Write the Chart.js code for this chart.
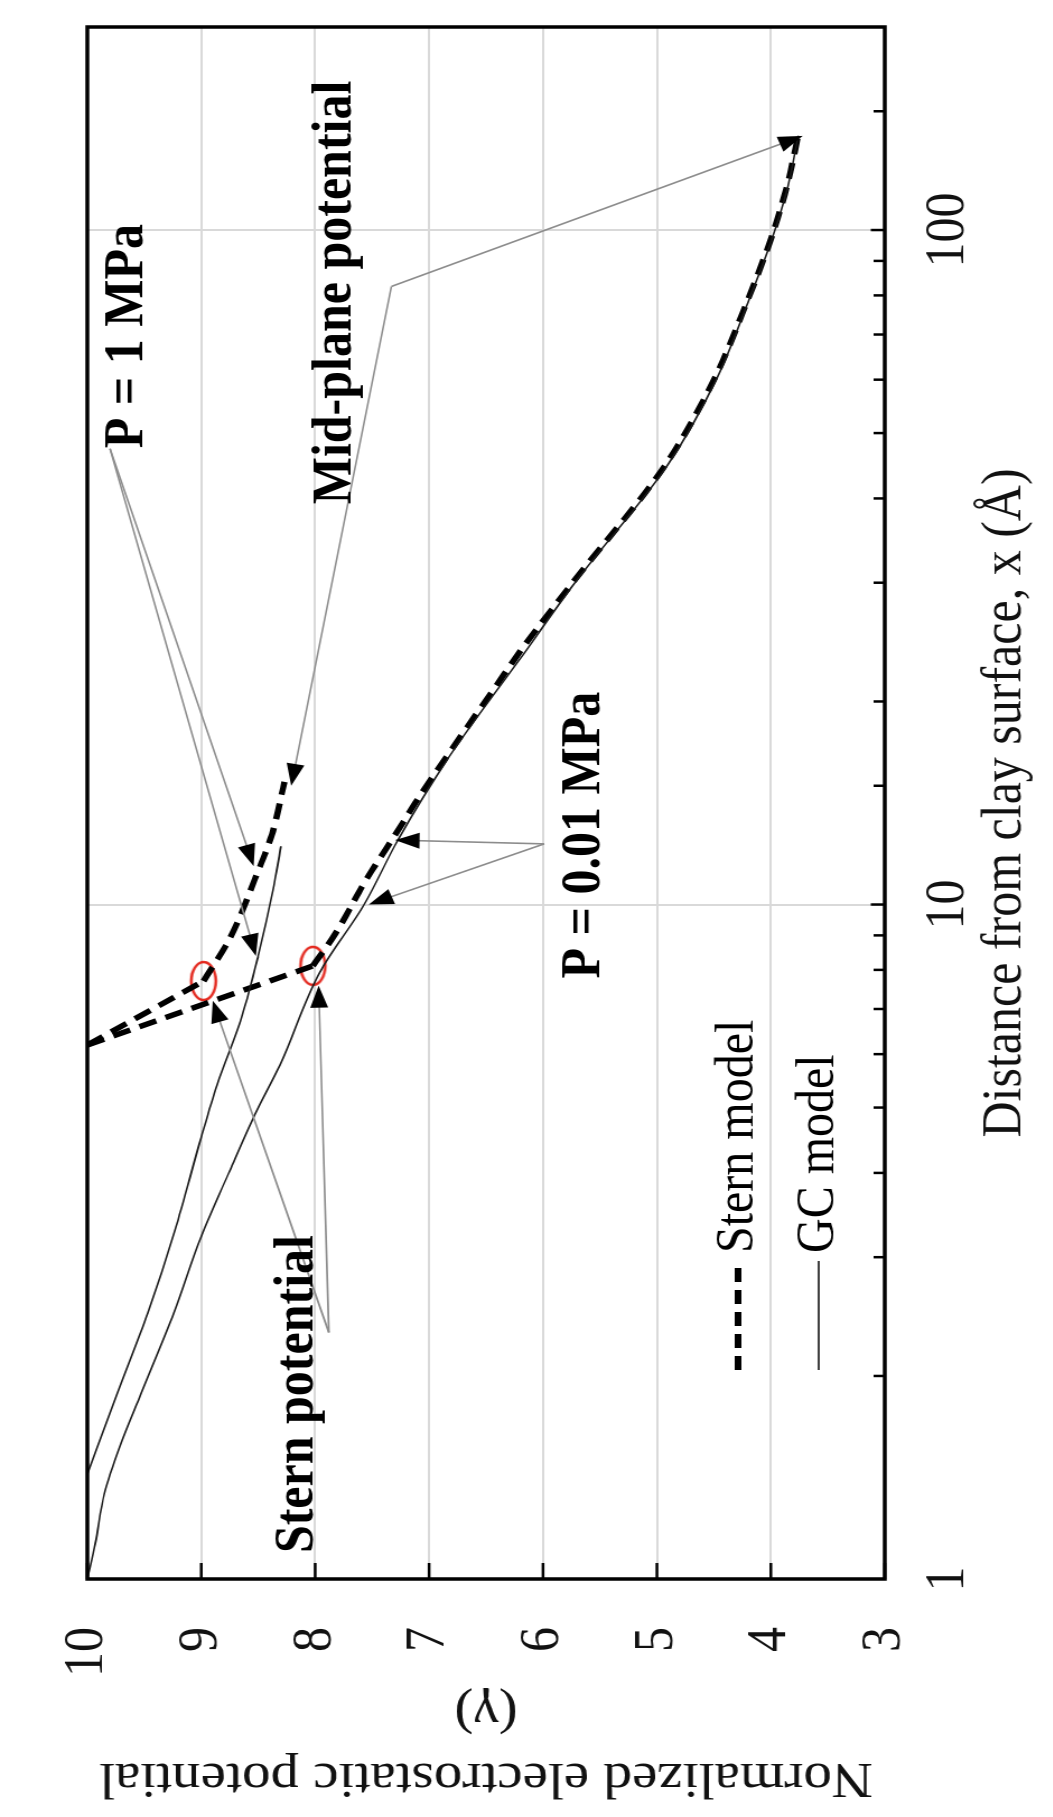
<!DOCTYPE html>
<html>
<head>
<meta charset="utf-8">
<title>Normalized electrostatic potential vs distance</title>
<script src="https://cdn.jsdelivr.net/npm/chart.js@4.4.1/dist/chart.umd.min.js"></script>
<style>
  html, body { margin: 0; padding: 0; background: #fff; }
  body { width: 1053px; height: 1817px; overflow: hidden; position: relative; }
  /* the figure is printed turned a quarter turn anticlockwise */
  #wrap {
    position: absolute; left: 0; top: 0;
    width: 1817px; height: 940px;
    transform-origin: 0 0;
    transform: translate(0, 1817px) rotate(-90deg) scaleY(1.12);
  }
</style>
</head>
<body>
<div id="wrap"><canvas id="potentialChart" width="1817" height="940"></canvas></div>
<script>
// ─── Electrostatic potential: Stern vs Gouy-Chapman ───

const SERIF = '"Liberation Serif", "Times New Roman", serif';

// Stern model, P = 0.01 MPa (first segment = Stern layer)
const sternLowX = [6.19, 8.11, 9.07, 10.9, 12.9, 14.5, 17, 21, 24, 30, 45, 60, 79, 97, 116, 138];
const sternLowY = [10, 8.02, 7.82, 7.55, 7.27, 7.08, 6.8, 6.42, 6.18, 5.74, 4.92, 4.5, 4.2, 4.0, 3.86, 3.76];

// Stern model, P = 1 MPa
const sternHighX = [6.19, 7.7, 8.9, 10.9, 12.7, 15.2];
const sternHighY = [10, 8.98, 8.75, 8.53, 8.38, 8.27];

// GC model, P = 0.01 MPa
const gcLowX = [1, 1.13, 1.34, 1.58, 1.88, 2.48, 3.22, 4.03, 4.88, 5.78, 7.93, 10, 12.5, 16.5, 23.4, 30, 45, 60, 79, 97, 116, 138];
const gcLowY = [10, 9.93, 9.85, 9.71, 9.53, 9.24, 9.0, 8.75, 8.53, 8.31, 7.96, 7.57, 7.27, 6.83, 6.18, 5.72, 4.9, 4.48, 4.19, 3.99, 3.85, 3.76];

// GC model, P = 1 MPa
const gcHighX = [1.43, 1.88, 2.48, 3.29, 4.52, 5.41, 6.85, 8.39, 10.5, 12.2];
const gcHighY = [10, 9.74, 9.47, 9.23, 9.0, 8.86, 8.64, 8.5, 8.37, 8.3];

// Stern potential (circled points)
const sternPotX = [7.7, 8.11];
const sternPotY = [8.98, 8.02];

// Axis tick labels
const xLabelValues = [1, 10, 100];

// Annotation labels (centre, in data units)
const labelText = ['P = 1 MPa', 'Mid-plane potential', 'Stern potential', 'P = 0.01 MPa'];
const labelX = [69.6, 80.8, 1.88, 12.67];
const labelY = [9.65, 7.82, 8.15, 5.63];

// Leader arrows: start and tip (data units)
const arrowStartX = [47.4, 47.4, 82.5, 82.5, 2.32, 2.32, 12.3, 12.3];
const arrowStartY = [9.8, 9.8, 7.33, 7.33, 7.88, 7.88, 5.99, 5.99];
const arrowTipX = [11.4, 8.39, 15.0, 137.9, 7.2, 7.58, 12.46, 10.0];
const arrowTipY = [8.54, 8.52, 8.21, 3.72, 8.9, 7.97, 7.3, 7.53];

// Legend
const legendText = ['Stern model', 'GC model'];
const legendDash = [[14, 8], []];
const legendWidth = [6, 1.6];

const toPoints = (xs, ys) => xs.map((x, i) => ({ x, y: ys[i] }));
const isDecade = v => Math.abs(Math.log10(v) - Math.round(Math.log10(v))) < 1e-9;

function ellipseMarker() {
    const c = document.createElement('canvas');
    c.width = 44;
    c.height = 28;
    const g = c.getContext('2d');
    g.strokeStyle = '#e3261c';
    g.lineWidth = 2.5;
    g.beginPath();
    g.ellipse(22, 14, 19, 11, 0, 0, Math.PI * 2);
    g.stroke();
    return c;
}

const DASHED = { borderColor: '#000', borderWidth: 5.5, borderDash: [16, 9], pointRadius: 0, showLine: true, fill: false };
const THIN = { borderColor: '#1a1a1a', borderWidth: 1.6, pointRadius: 0, showLine: true, fill: false, cubicInterpolationMode: 'monotone' };

// Frame, inward tick marks, leader arrows, labels and legend
const decorations = {
    id: 'decorations',
    afterDatasetsDraw(chart) {
        const { ctx, scales: { x, y } } = chart;
        ctx.save();
        arrowTipX.forEach((tx, i) => {
            const x0 = x.getPixelForValue(arrowStartX[i]);
            const y0 = y.getPixelForValue(arrowStartY[i]);
            const x1 = x.getPixelForValue(tx);
            const y1 = y.getPixelForValue(arrowTipY[i]);
            const ang = Math.atan2(y1 - y0, x1 - x0);
            const c = Math.cos(ang), s = Math.sin(ang);
            ctx.strokeStyle = '#8c8c8c';
            ctx.lineWidth = 1.6;
            ctx.beginPath();
            ctx.moveTo(x0, y0);
            ctx.lineTo(x1 - 18 * c, y1 - 18 * s);
            ctx.stroke();
            ctx.fillStyle = '#000';
            ctx.beginPath();
            ctx.moveTo(x1, y1);
            ctx.lineTo(x1 - 22 * c + 8 * s, y1 - 22 * s - 8 * c);
            ctx.lineTo(x1 - 22 * c - 8 * s, y1 - 22 * s + 8 * c);
            ctx.closePath();
            ctx.fill();
        });
        ctx.font = `bold 50px ${SERIF}`;
        ctx.fillStyle = '#000';
        ctx.textAlign = 'center';
        ctx.textBaseline = 'middle';
        labelText.forEach((t, i) => {
            ctx.fillText(t, x.getPixelForValue(labelX[i]), y.getPixelForValue(labelY[i]));
        });
        ctx.restore();
    },
    afterDraw(chart) {
        const { ctx, chartArea: a, scales: { x, y } } = chart;
        ctx.save();
        ctx.strokeStyle = '#000';
        ctx.lineWidth = 2.5;
        x.ticks.forEach(t => {
            const px = x.getPixelForValue(t.value);
            if (px < a.left + 2 || px > a.right - 2) return;
            const len = isDecade(t.value) ? 12.5 : 10;
            ctx.beginPath();
            ctx.moveTo(px, a.bottom);
            ctx.lineTo(px, a.bottom - len);
            ctx.stroke();
        });
        y.ticks.forEach(t => {
            const py = y.getPixelForValue(t.value);
            ctx.beginPath();
            ctx.moveTo(a.left, py);
            ctx.lineTo(a.left + 16, py);
            ctx.stroke();
        });
        ctx.lineWidth = 3.5;
        ctx.strokeRect(a.left, a.top, a.right - a.left, a.bottom - a.top);

        // legend
        ctx.font = `48px ${SERIF}`;
        ctx.fillStyle = '#000';
        ctx.textAlign = 'left';
        ctx.textBaseline = 'middle';
        legendText.forEach((t, i) => {
            const ly = a.top + 581 + i * 72;
            ctx.setLineDash(legendDash[i]);
            ctx.lineWidth = legendWidth[i];
            ctx.beginPath();
            ctx.moveTo(a.left + 209, ly);
            ctx.lineTo(a.left + 318, ly);
            ctx.stroke();
            ctx.setLineDash([]);
            ctx.fillText(t, a.left + 326, ly);
        });
        ctx.restore();
    }
};

Chart.defaults.font.family = SERIF;
Chart.defaults.color = '#000';

const ctx = document.getElementById('potentialChart');
new Chart(ctx, {
    type: 'scatter',
    data: {
        datasets: [
            { label: 'GC model, P = 1 MPa', data: toPoints(gcHighX, gcHighY), ...THIN },
            { label: 'GC model, P = 0.01 MPa', data: toPoints(gcLowX, gcLowY), ...THIN },
            { label: 'Stern layer, P = 1 MPa', data: toPoints(sternHighX.slice(0, 2), sternHighY.slice(0, 2)), ...DASHED },
            { label: 'Stern model, P = 1 MPa', data: toPoints(sternHighX.slice(1), sternHighY.slice(1)), ...DASHED, cubicInterpolationMode: 'monotone' },
            { label: 'Stern layer, P = 0.01 MPa', data: toPoints(sternLowX.slice(0, 2), sternLowY.slice(0, 2)), ...DASHED },
            { label: 'Stern model, P = 0.01 MPa', data: toPoints(sternLowX.slice(1), sternLowY.slice(1)), ...DASHED, cubicInterpolationMode: 'monotone' },
            {
                label: 'Stern potential',
                data: toPoints(sternPotX, sternPotY),
                showLine: false,
                pointStyle: ellipseMarker(),
                pointRadius: 14
            }
        ]
    },
    options: {
        responsive: false,
        animation: false,
        devicePixelRatio: 1,
        layout: { padding: { top: 31, right: 13, left: 0, bottom: 0 } },
        plugins: {
            legend: { display: false },
            tooltip: { enabled: false }
        },
        scales: {
            x: {
                type: 'logarithmic',
                min: 1,
                max: 200,
                afterFit: scale => { scale.height = 150; },
                grid: {
                    color: c => (c.tick && isDecade(c.tick.value)) ? '#d9d9d9' : 'rgba(0,0,0,0)',
                    lineWidth: 2,
                    drawTicks: false
                },
                border: { display: false },
                ticks: {
                    autoSkip: false,
                    maxRotation: 0,
                    padding: 27,
                    color: '#111',
                    font: { size: 50 },
                    callback: v => xLabelValues.includes(v) ? String(v) : ''
                },
                title: {
                    display: true,
                    text: 'Distance from clay surface, x (Å)',
                    color: '#111',
                    font: { size: 50 },
                    padding: { top: 0, bottom: 12 }
                }
            },
            y: {
                min: 3,
                max: 10,
                afterFit: scale => { scale.width = 238; },
                grid: { color: '#d9d9d9', lineWidth: 2, drawTicks: false },
                border: { display: false },
                ticks: {
                    stepSize: 1,
                    padding: 48,
                    color: '#111',
                    font: { size: 50 }
                },
                title: {
                    display: true,
                    text: ['Normalized electrostatic potential', '(γ)'],
                    color: '#111',
                    font: { size: 51, lineHeight: 1.27 },
                    padding: { top: 7, bottom: 0 }
                }
            }
        }
    },
    plugins: [decorations]
});
</script>
</body>
</html>
